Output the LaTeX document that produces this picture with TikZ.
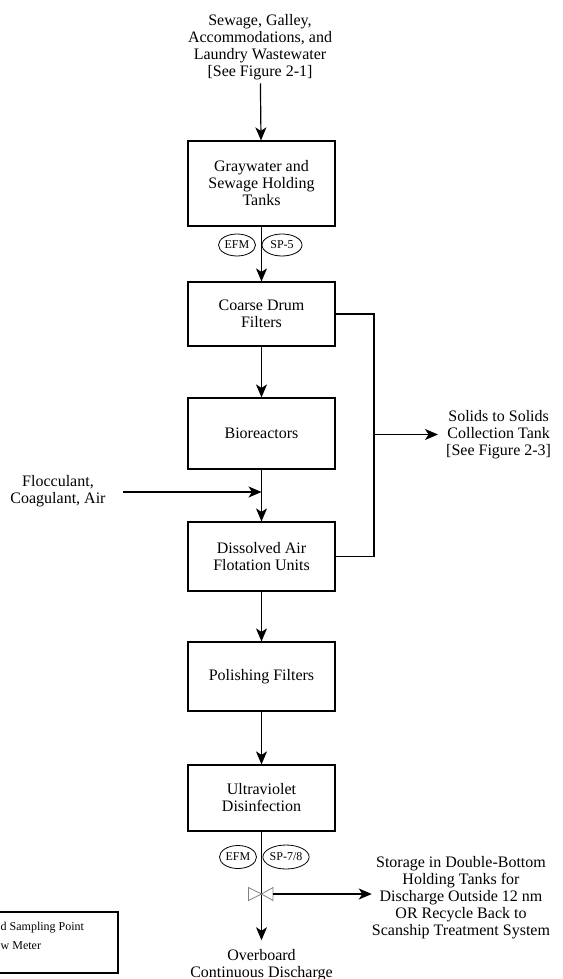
\documentclass[tikz,border=0pt]{standalone}
\usepackage{fontspec}
\setmainfont{Liberation Serif}
\usetikzlibrary{arrows.meta,shapes.geometric}
\begin{document}
\begin{tikzpicture}[x=1pt,y=-1pt,
  txt/.style={font=\fontsize{16}{17}\selectfont, align=center, inner sep=0pt},
  proc/.style={txt, draw, line width=1.2pt, minimum width=147pt},
  meter/.style={ellipse, draw, line width=0.8pt, inner sep=0pt, font=\fontsize{12}{13}\selectfont},
  flow/.style={line width=1.2pt},
  arr/.style={line width=1.2pt, -{Stealth[length=13pt,width=11pt,inset=3.5pt]}},
  legtxt/.style={font=\fontsize{12}{14}\selectfont, inner sep=0pt, anchor=west}]
\useasboundingbox (0,0) rectangle (562,979);

% sources / sinks text
\node[txt, outer ysep=3pt] (src) at (260,47.5) {Sewage, Galley,\\Accommodations, and\\Laundry Wastewater\\{[See Figure 2-1]}};
\node[txt] (floc) at (58,491.5) {Flocculant,\\Coagulant, Air};
\node[txt, anchor=west, inner xsep=8pt] (solids) at (438,434.5) {Solids to Solids\\Collection Tank\\{[See Figure 2-3]}};
\node[txt] (storage) at (461,897.5) {Storage in Double-Bottom\\Holding Tanks for\\Discharge Outside 12 nm\\OR Recycle Back to\\Scanship Treatment System};
\node[txt, outer ysep=9pt] (ob) at (261.5,965) {Overboard\\Continuous Discharge};

% process boxes
\node[proc, minimum height=85pt] (b1) at (261.5,183.5) {Graywater and\\Sewage Holding\\Tanks};
\node[proc, minimum height=64pt] (b2) at (261.5,314) {Coarse Drum\\Filters};
\node[proc, minimum height=71pt] (b3) at (261.5,433.5) {Bioreactors};
\node[proc, minimum height=69pt] (b4) at (261.5,556.5) {Dissolved Air\\Flotation Units};
\node[proc, minimum height=69pt] (b5) at (261.5,676.5) {Polishing Filters};
\node[proc, minimum height=66pt] (b6) at (261.5,798) {Ultraviolet\\Disinfection};

% meters
\node[meter, minimum width=37pt, minimum height=22pt] (efm1) at (237,245) {EFM};
\node[meter, minimum width=40pt, minimum height=22pt] (sp5) at (282,245) {SP-5};
\node[meter, minimum width=37pt, minimum height=23pt] (efm2) at (238,857) {EFM};
\node[meter, minimum width=46pt, minimum height=24pt] (sp78) at (286,857) {SP-7/8};

% main flow
\draw[arr] (src) -- (b1);
\draw[arr] (b1) -- (b2);
\draw[arr] (b2) -- (b3);
\draw[arr] (b3) -- (b4);
\draw[arr] (b4) -- (b5);
\draw[arr] (b5) -- (b6);

% flocculant injection
\coordinate (fstart) at (123,492);
\coordinate (fj) at (261.5,492);
\draw[arr] (fstart) -- (fj);

% solids bus
\coordinate (bus) at (374,434.5);
\draw[flow] (b2.east) -- (b2.east -| bus) -- (b4.east -| bus) -- (b4.east);
\draw[arr] (bus) -- (solids.west);

% valve and discharge
\coordinate (valve) at (261.5,894);
\coordinate (vr) at (273,894);
\draw[flow] (b6.south) -- (valve);
\draw[arr] (valve) -- (ob);
\draw[gray, line width=0.8pt, fill=white] (valve) -- ++(-13,-6.5) -- ++(0,13) -- cycle;
\draw[gray, line width=0.8pt, fill=white] (valve) -- ++(11.5,-6.5) -- ++(0,13) -- cycle;
\draw[arr] (vr) -- (vr -| storage.west);

% legend (cut at the left edge)
\draw[line width=1.2pt] (0,912) -- (118,912) -- (118,973) -- (0,973);
\node[legtxt] (leg1) at (0.5,928) {d Sampling Point};
\node[legtxt] (leg2) at (0.5,946) {w Meter};
\end{tikzpicture}
\end{document}
